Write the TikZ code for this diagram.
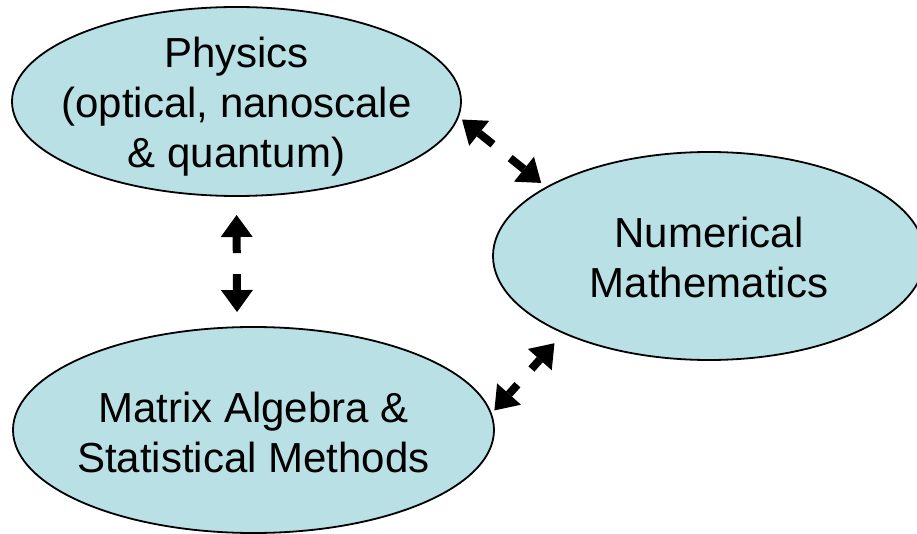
\documentclass[tikz,border=0pt]{standalone}
\usepackage{fontspec}
\setmainfont{Liberation Sans}
\usetikzlibrary{shapes.geometric,arrows.meta,calc}
\definecolor{bubblefill}{RGB}{185,224,228}
\begin{document}
\begin{tikzpicture}[x=1pt,y=-1pt,
  bubble/.style={ellipse, draw=black, line width=1.8pt, fill=bubblefill, inner sep=0pt},
  lbl/.style={font=\fontsize{42}{50}\selectfont, align=center, inner sep=0pt},
  arr/.style={line width=8pt, line cap=butt, -{Triangle[length=22pt,width=32pt,line width=0pt]}}]
\useasboundingbox (0,0) rectangle (917,534);
% bubbles
\node[bubble, minimum width=449pt, minimum height=189pt] (phys) at (236.5,101.5) {};
\node[bubble, minimum width=432pt, minimum height=208pt] (num) at (709,256) {};
\node[bubble, minimum width=481pt, minimum height=206pt] (mat) at (253.5,430) {};
% labels
\node[lbl] (physT) at (236.5,107) {Physics\\(optical, nanoscale\\\& quantum)};
\node[lbl] (numT) at (709,257) {Numerical\\Mathematics};
\node[lbl] (matT) at (253.5,432) {Matrix Algebra \&\\Statistical Methods};
% connector Physics -- Numerical
\coordinate (t1a) at ($(phys.-4.1)!4pt!(num.157)$);
\coordinate (t1b) at ($(num.157)!6.2pt!(phys.-4.1)$);
\coordinate (m1) at ($(t1a)!.5!(t1b)$);
\draw[arr, shorten >=4pt] ($(m1)!11pt!(phys.-4.1)$) -- (phys.-4.1);
\draw[arr, shorten >=6.2pt] ($(m1)!11pt!(num.157)$) -- (num.157);
% connector Matrix -- Numerical
\coordinate (t2a) at ($(mat.4.9)!3.9pt!(num.208.9)$);
\coordinate (t2b) at ($(num.208.9)!12.9pt!(mat.4.9)$);
\coordinate (m2) at ($(t2a)!.5!(t2b)$);
\draw[arr, shorten >=3.9pt] ($(m2)!10.5pt!(mat.4.9)$) -- (mat.4.9);
\draw[arr, shorten >=12.9pt] ($(m2)!10.5pt!(num.208.9)$) -- (num.208.9);
% connector Physics -- Matrix
\coordinate (t3a) at ($(phys.-90)!18.1pt!(mat.99)$);
\coordinate (t3b) at ($(mat.99)!14.3pt!(phys.-90)$);
\coordinate (m3) at ($(t3a)!.5!(t3b)$);
\draw[arr, shorten >=18.1pt] ($(m3)!10.5pt!(phys.-90)$) -- (phys.-90);
\draw[arr, shorten >=14.3pt] ($(m3)!10.5pt!(mat.99)$) -- (mat.99);
\end{tikzpicture}
\end{document}
